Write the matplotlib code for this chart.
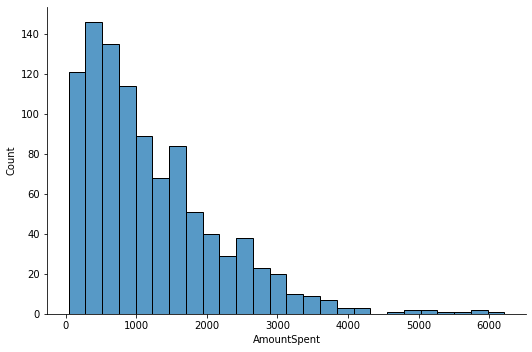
import numpy as np
import matplotlib
matplotlib.use("Agg")
import matplotlib.pyplot as plt

# Гистограмма AmountSpent: границы корзин и количества
bin_start = 38
bin_end = 6217
counts = [121, 146, 135, 114, 89, 68, 84, 51, 40, 29, 38, 23, 20,
          10, 9, 7, 3, 3, 0, 1, 2, 2, 1, 1, 2, 1]
x_label = "AmountSpent"
y_label = "Count"

edges = np.linspace(bin_start, bin_end, len(counts) + 1)
widths = np.diff(edges)

fig = plt.figure(figsize=(532 / 72, 352 / 72), dpi=72)
ax = fig.add_axes([0.088, 0.108, 0.901, 0.872])

ax.bar(edges[:-1], counts, width=widths, align="edge",
       color="#1f77b4", alpha=0.75, edgecolor="none")
ax.bar(edges[:-1], counts, width=widths, align="edge",
       fill=False, edgecolor="black", linewidth=1.0)

ax.margins(x=0.05)
ax.set_ylim(0, max(counts) * 1.05)
ax.set_yticks(range(0, 141, 20))
ax.set_xticks(range(0, 6001, 1000))
ax.set_xlabel(x_label, fontsize=10)
ax.set_ylabel(y_label, fontsize=10)
ax.tick_params(labelsize=10)

# убираем верхнюю и правую рамки
ax.spines["top"].set_visible(False)
ax.spines["right"].set_visible(False)

fig.savefig("out.png", dpi=72, facecolor="white")
